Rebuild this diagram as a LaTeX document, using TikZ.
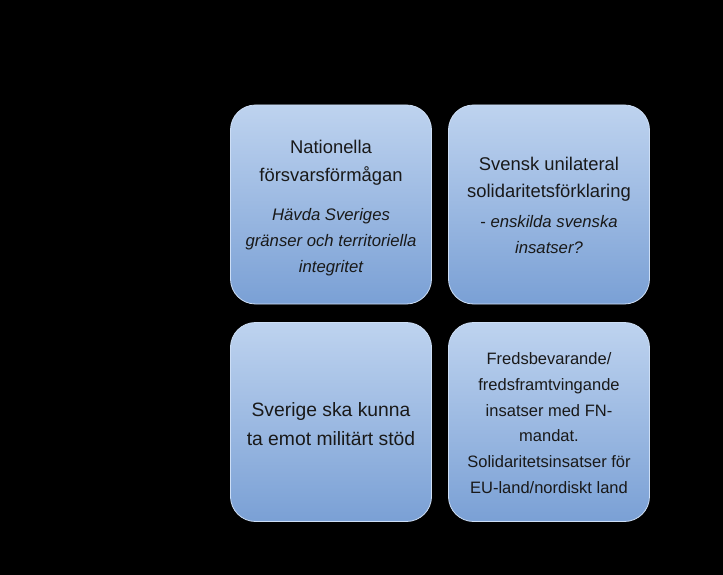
\documentclass[tikz,border=0pt]{standalone}
\usepackage{fontspec}
\setmainfont{Liberation Sans}
\definecolor{boxtop}{RGB}{190,211,239}
\definecolor{boxbot}{RGB}{122,160,213}
\definecolor{boxline}{RGB}{205,222,245}
\definecolor{txt}{RGB}{25,25,25}
\tikzset{
  quad/.style={rectangle, rounded corners=25pt, minimum width=201pt, minimum height=199pt,
    top color=boxtop, bottom color=boxbot, draw=boxline, line width=0.8pt,
    text=txt, align=center, inner sep=0pt},
  label/.style={align=center, text=txt, inner sep=0pt},
}
\begin{document}
\begin{tikzpicture}[x=1pt,y=-1pt]
\useasboundingbox (0,0) rectangle (723,575);
\fill[black] (0,0) rectangle (723,575);
\node[quad] (nat) at (331,204.5) {};
\node[quad] (uni) at (549,204.5) {};
\node[quad] (stod) at (331,422) {};
\node[quad] (fn) at (549,422) {};
\node[label, font=\fontsize{18.4}{28}\selectfont] (natm) at (331,163) {Nationella\\försvarsförmågan};
\node[label, font=\fontsize{16.7}{26}\selectfont\itshape] (nati) at (331,242) {Hävda Sveriges\\gränser och territoriella\\integritet};
\node[label, font=\fontsize{18.4}{27}\selectfont] (unim) at (549,179.5) {Svensk unilateral\\solidaritetsförklaring};
\node[label, font=\fontsize{16.7}{26}\selectfont] (unii) at (549,235) {- \textit{enskilda svenska}\\\textit{insatser?}};
\node[label, font=\fontsize{19.3}{29}\selectfont] (stodt) at (331,424.5) {Sverige ska kunna\\ta emot militärt stöd};
\node[label, font=\fontsize{16.5}{25.8}\selectfont] (fnt) at (549,423) {Fredsbevarande/\\fredsframtvingande\\insatser med FN-\\mandat.\\Solidaritetsinsatser för\\EU-land/nordiskt land};
\end{tikzpicture}
\end{document}
